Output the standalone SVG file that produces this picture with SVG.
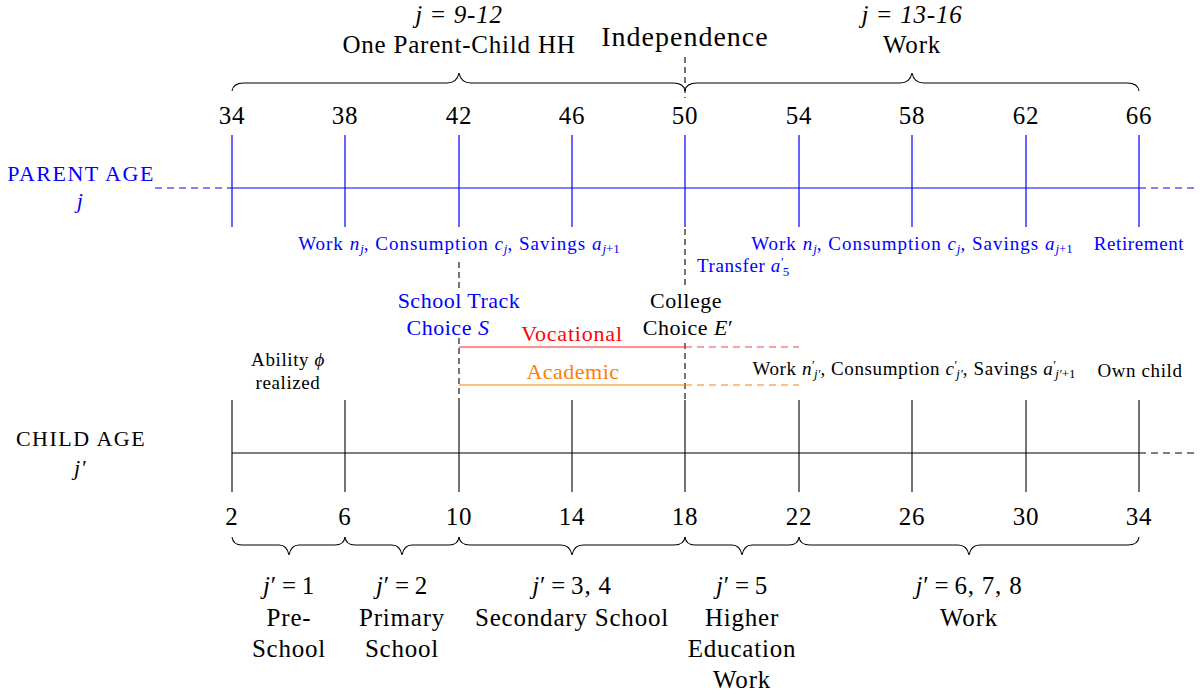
<svg xmlns="http://www.w3.org/2000/svg" width="1203" height="694" viewBox="0 0 1203 694">
<style>
text{font-family:"Liberation Serif","DejaVu Serif",serif;fill:#000}
.big{font-size:25px;letter-spacing:0.8px}
.mid{font-size:22px;letter-spacing:0.5px}
.caps{font-size:22px;letter-spacing:1.5px}
.sm{font-size:19px;letter-spacing:0.6px}
.act{font-size:19px;letter-spacing:1px}
.sub{font-size:13px;letter-spacing:0}
.b{fill:#0000ff}
.i{font-style:italic}
.bl{stroke:#0000ff;stroke-width:1.2;fill:none}
.k{stroke:#000;stroke-width:1.1;fill:none}
.d{stroke-dasharray:7,5}
.d2{stroke-dasharray:6,4}
</style>
<rect width="1203" height="694" fill="#fff"/>
<g id="connectors">
<line class="bl" x1="232" y1="188" x2="1139" y2="188"/>
<line class="bl d" x1="155" y1="188" x2="232" y2="188"/>
<line class="bl d" x1="1139" y1="188" x2="1195" y2="188"/>
<g class="bl">
<line x1="232" y1="135" x2="232" y2="227"/><line x1="345" y1="135" x2="345" y2="227"/><line x1="459" y1="135" x2="459" y2="227"/><line x1="572" y1="135" x2="572" y2="227"/><line x1="685" y1="135" x2="685" y2="227"/><line x1="799" y1="135" x2="799" y2="227"/><line x1="912" y1="135" x2="912" y2="227"/><line x1="1026" y1="135" x2="1026" y2="227"/><line x1="1139" y1="135" x2="1139" y2="227"/>
</g>
<line class="k" x1="232" y1="453" x2="1139" y2="453"/>
<line class="k d" x1="1139" y1="453" x2="1195" y2="453"/>
<g class="k">
<line x1="232" y1="400" x2="232" y2="492"/><line x1="345" y1="400" x2="345" y2="492"/><line x1="459" y1="400" x2="459" y2="492"/><line x1="572" y1="400" x2="572" y2="492"/><line x1="685" y1="400" x2="685" y2="492"/><line x1="799" y1="400" x2="799" y2="492"/><line x1="912" y1="400" x2="912" y2="492"/><line x1="1026" y1="400" x2="1026" y2="492"/><line x1="1139" y1="400" x2="1139" y2="492"/>
</g>
<g class="k d2" stroke-width="1">
<line x1="685" y1="57" x2="685" y2="98"/>
<line x1="685" y1="229" x2="685" y2="287"/>
<line x1="685" y1="343" x2="685" y2="400"/>
<line x1="459" y1="262" x2="459" y2="290"/>
<line x1="459" y1="338" x2="459" y2="400"/>
</g>
<line x1="459" y1="347" x2="685" y2="347" stroke="#ff2020" stroke-width="1.2"/>
<line x1="685" y1="347" x2="799" y2="347" stroke="#ff4040" stroke-width="1.2" class="d"/>
<line x1="459" y1="385" x2="685" y2="385" stroke="#ff8000" stroke-width="1.2"/>
<line x1="685" y1="385" x2="799" y2="385" stroke="#ff8000" stroke-width="1.2" class="d"/>
<path class="k" d="M232,91 Q233,83 244,83 L447,83 Q457,83 459,73 Q461,83 471,83 L673,83 Q684,83 685,91"/>
<path class="k" d="M685,91 Q686,83 697,83 L900,83 Q910,83 912,73 Q914,83 924,83 L1127,83 Q1138,83 1139,91"/>
<path class="k" d="M232,537 Q233,545 242,545 L279,545 Q287,545 289,555 Q291,545 299,545 L335,545 Q344,545 345,537"/>
<path class="k" d="M345,537 Q346,545 355,545 L392,545 Q400,545 402,555 Q404,545 412,545 L449,545 Q458,545 459,537"/>
<path class="k" d="M459,537 Q460,545 470,545 L561,545 Q570,545 572,555 Q574,545 583,545 L674,545 Q684,545 685,537"/>
<path class="k" d="M685,537 Q686,545 695,545 L732,545 Q740,545 742,555 Q744,545 752,545 L789,545 Q798,545 799,537"/>
<path class="k" d="M799,537 Q800,545 810,545 L958,545 Q967,545 969,555 Q971,545 980,545 L1128,545 Q1138,545 1139,537"/>
</g>
<g id="top-labels">
<text class="big" x="459" y="23" text-anchor="middle"><tspan class="i">j</tspan><tspan dx="8">=</tspan><tspan dx="8" class="i">9-12</tspan></text>
<text class="big" x="459" y="53" text-anchor="middle">One Parent-Child HH</text>
<text x="685" y="46" text-anchor="middle" font-size="28" letter-spacing="1">Independence</text>
<text class="big" x="912" y="23" text-anchor="middle"><tspan class="i">j</tspan><tspan dx="8">=</tspan><tspan dx="8" class="i">13-16</tspan></text>
<text class="big" x="912" y="53" text-anchor="middle">Work</text>
</g>
<g id="parent-ticks" class="big">
<text x="232" y="124" text-anchor="middle">34</text>
<text x="345" y="124" text-anchor="middle">38</text>
<text x="459" y="124" text-anchor="middle">42</text>
<text x="572" y="124" text-anchor="middle">46</text>
<text x="685" y="124" text-anchor="middle">50</text>
<text x="799" y="124" text-anchor="middle">54</text>
<text x="912" y="124" text-anchor="middle">58</text>
<text x="1026" y="124" text-anchor="middle">62</text>
<text x="1139" y="124" text-anchor="middle">66</text>
</g>
<g id="parent-label">
<text class="caps b" x="81" y="181" text-anchor="middle">PARENT AGE</text>
<text class="mid b i" x="80" y="208" text-anchor="middle">j</text>
</g>
<g id="parent-activities">
<text class="act b" x="459" y="250" text-anchor="middle">Work <tspan class="i">n</tspan><tspan dy="3" class="sub i">j</tspan><tspan dy="-3">, Consumption </tspan><tspan class="i">c</tspan><tspan dy="3" class="sub i">j</tspan><tspan dy="-3">, Savings </tspan><tspan class="i">a</tspan><tspan dy="3" class="sub"><tspan class="i">j</tspan>+1</tspan></text>
<text class="act b" x="912" y="250" text-anchor="middle">Work <tspan class="i">n</tspan><tspan dy="3" class="sub i">j</tspan><tspan dy="-3">, Consumption </tspan><tspan class="i">c</tspan><tspan dy="3" class="sub i">j</tspan><tspan dy="-3">, Savings </tspan><tspan class="i">a</tspan><tspan dy="3" class="sub"><tspan class="i">j</tspan>+1</tspan></text>
<text class="sm b" x="1139" y="250" text-anchor="middle">Retirement</text>
<text class="sm b" x="697" y="272">Transfer <tspan class="i">a</tspan><tspan dy="-6" class="sub">′</tspan><tspan dx="-1" dy="10" class="sub">5</tspan></text>
</g>
<g id="school-track">
<text class="mid b" x="459" y="308" text-anchor="middle">School Track</text>
<text class="mid b" x="448" y="335" text-anchor="middle">Choice <tspan class="i">S</tspan></text>
</g>
<g id="college-choice">
<text class="mid" x="686" y="308" text-anchor="middle">College</text>
<text class="mid" x="688" y="335" text-anchor="middle">Choice <tspan class="i">E</tspan>′</text>
</g>
<g id="vocational">
<text x="572" y="341" text-anchor="middle" font-size="22" letter-spacing="0.8" style="fill:#ff0000">Vocational</text>
</g>
<g id="academic">
<text x="573" y="379" text-anchor="middle" font-size="22" letter-spacing="0.5" style="fill:#ff8000">Academic</text>
</g>
<g id="ability">
<text class="sm" x="288" y="366" text-anchor="middle">Ability <tspan class="i">ϕ</tspan></text>
<text class="sm" x="288" y="389" text-anchor="middle">realized</text>
</g>
<g id="child-activities">
<text class="sm" x="914" y="375" text-anchor="middle" letter-spacing="1.1">Work <tspan class="i">n</tspan><tspan dy="-6" class="sub">′</tspan><tspan dx="-1" dy="9" class="sub i">j′</tspan><tspan dy="-3">, Consumption </tspan><tspan class="i">c</tspan><tspan dy="-6" class="sub">′</tspan><tspan dx="-1" dy="9" class="sub i">j′</tspan><tspan dy="-3">, Savings </tspan><tspan class="i">a</tspan><tspan dy="-6" class="sub">′</tspan><tspan dx="-1" dy="9" class="sub"><tspan class="i">j′</tspan>+1</tspan></text>
<text class="sm" x="1140" y="377" text-anchor="middle">Own child</text>
</g>
<g id="child-label">
<text class="caps" x="81" y="446" text-anchor="middle">CHILD AGE</text>
<text class="mid i" x="80" y="475" text-anchor="middle">j′</text>
</g>
<g id="child-ticks" class="big">
<text x="232" y="525" text-anchor="middle">2</text>
<text x="345" y="525" text-anchor="middle">6</text>
<text x="459" y="525" text-anchor="middle">10</text>
<text x="572" y="525" text-anchor="middle">14</text>
<text x="685" y="525" text-anchor="middle">18</text>
<text x="799" y="525" text-anchor="middle">22</text>
<text x="912" y="525" text-anchor="middle">26</text>
<text x="1026" y="525" text-anchor="middle">30</text>
<text x="1139" y="525" text-anchor="middle">34</text>
</g>
<g id="stage1" class="big">
<text x="289" y="594" text-anchor="middle"><tspan class="i">j</tspan>′<tspan dx="5">=</tspan><tspan dx="5">1</tspan></text>
<text x="289" y="626" text-anchor="middle">Pre-</text>
<text x="289" y="657" text-anchor="middle">School</text>
</g>
<g id="stage2" class="big">
<text x="402" y="594" text-anchor="middle"><tspan class="i">j</tspan>′<tspan dx="5">=</tspan><tspan dx="5">2</tspan></text>
<text x="402" y="626" text-anchor="middle">Primary</text>
<text x="402" y="657" text-anchor="middle">School</text>
</g>
<g id="stage3" class="big">
<text x="572" y="594" text-anchor="middle"><tspan class="i">j</tspan>′<tspan dx="5">=</tspan><tspan dx="5">3, 4</tspan></text>
<text x="572" y="626" text-anchor="middle">Secondary School</text>
</g>
<g id="stage4" class="big">
<text x="742" y="594" text-anchor="middle"><tspan class="i">j</tspan>′<tspan dx="5">=</tspan><tspan dx="5">5</tspan></text>
<text x="742" y="626" text-anchor="middle">Higher</text>
<text x="742" y="657" text-anchor="middle">Education</text>
<text x="742" y="688" text-anchor="middle">Work</text>
</g>
<g id="stage5" class="big">
<text x="969" y="594" text-anchor="middle"><tspan class="i">j</tspan>′<tspan dx="5">=</tspan><tspan dx="5">6, 7, 8</tspan></text>
<text x="969" y="626" text-anchor="middle">Work</text>
</g>
</svg>
